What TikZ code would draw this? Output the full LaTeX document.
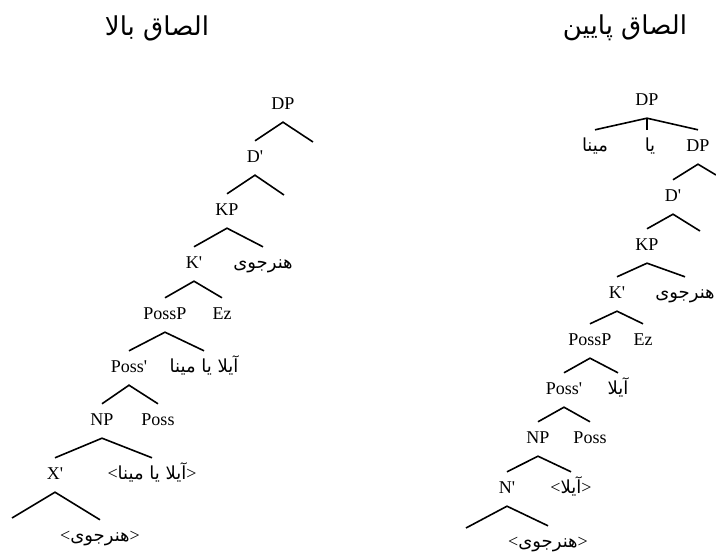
\documentclass[tikz,border=0pt]{standalone}
\usepackage{fontspec}
\usepackage{tikz}
\setmainfont{Liberation Serif}[Ligatures=TeXOff]
\newfontfamily\farsi[Script=Arabic]{DejaVu Sans}
\TeXXeTstate=1
\newcommand{\fa}[1]{{\farsi\beginR #1\endR}}

\begin{document}
\begin{tikzpicture}[
x=1pt,y=-1pt,
lbl/.style={
font=\fontsize{18}{20}\selectfont,
text height=20pt,
text depth=10pt,
inner xsep=1pt,
inner ysep=2pt
},
falbl/.style={
lbl,
font=\fontsize{18}{20}\selectfont
},
title/.style={
font=\fontsize{26}{30}\selectfont
},
br/.style={line width=1.6pt}
]
\useasboundingbox (0,0) rectangle (716,553);

% titles
\node[title] (ttlA) at (157,28) {\fa{الصاق بالا}};
\node[title] (ttlB) at (625,28) {\fa{الصاق پایین}};

% left tree
\node[lbl] (dpA) at (283,105) {DP};
\coordinate (dpAr) at (313,142);
\node[lbl] (dbA) at (255,158) {D'};
\coordinate (dbAr) at (284,195);
\node[lbl] (kpA) at (227,211) {KP};
\node[lbl] (kbA) at (194,264) {K'};
\node[falbl] (hnA) at (263,264) {\fa{هنرجوی}};
\node[lbl] (pppA) at (165,315) {PossP};
\node[lbl] (ezA) at (222,315) {Ez};
\node[lbl] (pbA) at (129,368) {Poss'};
\node[falbl] (ayA) at (204,368) {\fa{آیلا یا مینا}};
\node[lbl] (npA) at (102,421) {NP};
\node[lbl] (possA) at (158,421) {Poss};
\node[lbl] (xbA) at (55,475) {X'};
\node[falbl] (tayA) at (152,475) {<\fa{آیلا یا مینا}>};
\coordinate (xbAl) at (12,518);
\node[falbl] (thnA) at (100,537) {<\fa{هنرجوی}>};

\draw[br] (dbA.north) -- (dpA.south) -- (dpAr);
\draw[br] (kpA.north) -- (dbA.south) -- (dbAr);
\draw[br] (kbA.north) -- (kpA.south) -- (hnA.north);
\draw[br] (pppA.north) -- (kbA.south) -- (ezA.north);
\draw[br] (pbA.north) -- (pppA.south) -- (ayA.north);
\draw[br] (npA.north) -- (pbA.south) -- (possA.north);
\draw[br] (xbA.north) -- (npA.south) -- (tayA.north);
\draw[br] (xbAl) -- (xbA.south) -- (thnA.north);

% right tree
\node[lbl] (dpB0) at (647,101) {DP};
\node[falbl] (minaB) at (595,147) {\fa{مینا}};
\node[falbl] (yaB) at (650,147) {\fa{یا}};
\node[lbl] (dpB) at (698,147) {DP};
\coordinate (dpBr) at (716,175);
\node[lbl] (dbB) at (673,197) {D'};
\coordinate (dbBr) at (700,231);
\node[lbl] (kpB) at (647,246) {KP};
\node[lbl] (kbB) at (617,294) {K'};
\node[falbl] (hnB) at (685,294) {\fa{هنرجوی}};
\node[lbl] (pppB) at (590,341) {PossP};
\node[lbl] (ezB) at (643,341) {Ez};
\node[lbl] (pbB) at (564,390) {Poss'};
\node[falbl] (ayB) at (618,390) {\fa{آیلا}};
\node[lbl] (npB) at (538,439) {NP};
\node[lbl] (possB) at (590,439) {Poss};
\node[lbl] (nbB) at (507,489) {N'};
\node[falbl] (tayB) at (571,489) {<\fa{آیلا}>};
\coordinate (nbBl) at (466,528);
\node[falbl] (thnB) at (548,543) {<\fa{هنرجوی}>};

\draw[br] (minaB.north) -- (dpB0.south) -- (dpB.north);
\draw[br] (dpB0.south) -- (dpB0.south |- yaB.north);
\draw[br] (dbB.north) -- (dpB.south) -- (dpBr);
\draw[br] (kpB.north) -- (dbB.south) -- (dbBr);
\draw[br] (kbB.north) -- (kpB.south) -- (hnB.north);
\draw[br] (pppB.north) -- (kbB.south) -- (ezB.north);
\draw[br] (pbB.north) -- (pppB.south) -- (ayB.north);
\draw[br] (npB.north) -- (pbB.south) -- (possB.north);
\draw[br] (nbB.north) -- (npB.south) -- (tayB.north);
\draw[br] (nbBl) -- (nbB.south) -- (thnB.north);

\end{tikzpicture}
\end{document}
